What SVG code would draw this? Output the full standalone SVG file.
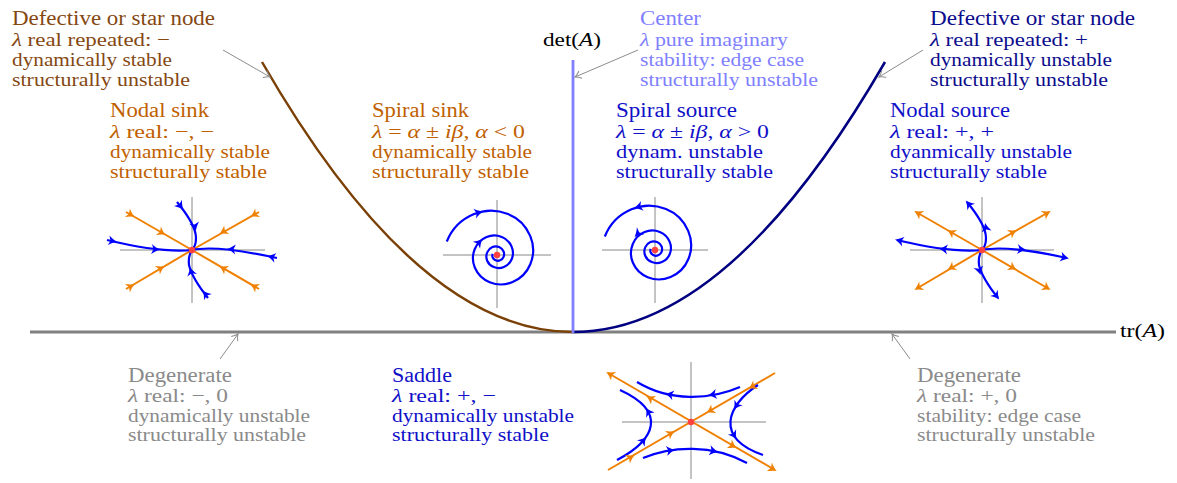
<svg xmlns="http://www.w3.org/2000/svg" xmlns:xlink="http://www.w3.org/1999/xlink" width="1177" height="483" viewBox="0 0 1177 483">
<style>
.t{font-family:"Liberation Serif","DejaVu Serif",serif;font-size:19.5px}
.h{font-size:20.5px}
.it{font-style:italic}
.brown{fill:#854812}.org{fill:#bf6000}.navy{fill:#0c0c8c}.blue{fill:#1010c8}.lb{fill:#8080ff}.gray{fill:#8a8a8a}.blk{fill:#000}
.ax{stroke:#888;stroke-width:1;fill:none}
.ot{stroke:#f08000;stroke-width:2;fill:none}
.bt{stroke:#0000ff;stroke-width:2.2;fill:none}
.oa{fill:#f08000}.ba{fill:#0000ff}
.dot{fill:#ff4040}
.ptr{stroke:#8c8c8c;stroke-width:1;fill:none;marker-end:url(#pt)}
</style>
<defs>
<path id="ah" d="M2,0 C-1,-1 -4,-3 -6.5,-5 L-4.5,0 L-6.5,5 C-4,3 -1,1 2,0 Z"/>
<marker id="pt" markerUnits="userSpaceOnUse" markerWidth="12" markerHeight="12" viewBox="-8 -6 10 12" refX="0" refY="0" orient="auto">
<path d="M-6,-4 Q-2,-0.6 0,0 Q-2,0.6 -6,4" stroke="#8c8c8c" stroke-width="1" fill="none"/>
</marker>
<path id="spiral" d="M446.8,241.5 A49.5,49.5 0 0 1 473.5,214.3 A44.7,44.7 0 0 1 508.0,214.0 A40.4,40.4 0 0 1 530.2,235.9 A36.5,36.5 0 0 1 530.4,264.0 A32.9,32.9 0 0 1 512.6,282.0 A29.7,29.7 0 0 1 489.7,282.2 A26.9,26.9 0 0 1 474.9,267.8 A24.3,24.3 0 0 1 474.8,249.0 A21.9,21.9 0 0 1 486.6,237.0 A19.8,19.8 0 0 1 501.8,236.9 A17.8,17.8 0 0 1 511.6,246.6 A16.1,16.1 0 0 1 511.8,259.0 A14.6,14.6 0 0 1 503.9,267.0 A13.2,13.2 0 0 1 493.8,267.1 A11.9,11.9 0 0 1 487.2,260.7 A10.8,10.8 0 0 1 487.2,252.4 A9.7,9.7 0 0 1 492.4,247.0 A8.8,8.8 0 0 1 499.1,247.0 A7.9,7.9 0 0 1 503.5,251.3 A7.2,7.2 0 0 1 503.6,256.8 A6.5,6.5 0 0 1 500.1,260.3 A5.8,5.8 0 0 1 495.6,260.3 A5.3,5.3 0 0 1 492.7,257.5 A4.8,4.8 0 0 1 492.7,253.8"/>
</defs>
<rect width="1177" height="483" fill="#fff"/>

<g id="axes">
<line x1="30" y1="332" x2="1116" y2="332" stroke="#808080" stroke-width="2.8"/>
<path d="M262,62 Q417.5,332 573,332" stroke="#7a4006" stroke-width="2.5" fill="none"/>
<path d="M573,332 Q729,332 885,62" stroke="#000080" stroke-width="2.5" fill="none"/>
<line x1="573" y1="60" x2="573" y2="333" stroke="#8080ff" stroke-width="2.8"/>
<text class="t blk" x="543" y="46" textLength="58" lengthAdjust="spacingAndGlyphs">det(<tspan class="it">A</tspan>)</text>
<text class="t blk" x="1120" y="337" textLength="45" lengthAdjust="spacingAndGlyphs">tr(<tspan class="it">A</tspan>)</text>
</g>

<g id="connectors">
<path class="ptr" d="M223,50 L270,77"/>
<path class="ptr" d="M638,50 L575,77"/>
<path class="ptr" d="M923,50 L879,77"/>
<path class="ptr" d="M220,359 L238,334"/>
<path class="ptr" d="M910,359 L892,334"/>
</g>

<g id="star-node-stable">
<text class="t h brown" x="12" y="25" textLength="203" lengthAdjust="spacingAndGlyphs">Defective or star node</text>
<text class="t brown" x="12" y="46" textLength="158" lengthAdjust="spacingAndGlyphs"><tspan class="it">λ</tspan> real repeated: −</text>
<text class="t brown" x="12" y="66" textLength="160" lengthAdjust="spacingAndGlyphs">dynamically stable</text>
<text class="t brown" x="12" y="86" textLength="178" lengthAdjust="spacingAndGlyphs">structurally unstable</text>
</g>

<g id="center">
<text class="t h lb" x="640" y="25" textLength="61" lengthAdjust="spacingAndGlyphs">Center</text>
<text class="t lb" x="640" y="46" textLength="148" lengthAdjust="spacingAndGlyphs"><tspan class="it">λ</tspan> pure imaginary</text>
<text class="t lb" x="640" y="66" textLength="164" lengthAdjust="spacingAndGlyphs">stability: edge case</text>
<text class="t lb" x="640" y="86" textLength="178" lengthAdjust="spacingAndGlyphs">structurally unstable</text>
</g>

<g id="star-node-unstable">
<text class="t h navy" x="930" y="25" textLength="205" lengthAdjust="spacingAndGlyphs">Defective or star node</text>
<text class="t navy" x="930" y="46" textLength="158" lengthAdjust="spacingAndGlyphs"><tspan class="it">λ</tspan> real repeated: +</text>
<text class="t navy" x="930" y="66" textLength="182" lengthAdjust="spacingAndGlyphs">dynamically unstable</text>
<text class="t navy" x="930" y="86" textLength="178" lengthAdjust="spacingAndGlyphs">structurally unstable</text>
</g>

<g id="nodal-sink">
<text class="t h org" x="110" y="117" textLength="99" lengthAdjust="spacingAndGlyphs">Nodal sink</text>
<text class="t org" x="110" y="138" textLength="104" lengthAdjust="spacingAndGlyphs"><tspan class="it">λ</tspan> real: −, −</text>
<text class="t org" x="110" y="158" textLength="160" lengthAdjust="spacingAndGlyphs">dynamically stable</text>
<text class="t org" x="110" y="178" textLength="157" lengthAdjust="spacingAndGlyphs">structurally stable</text>
<line class="ax" x1="120" y1="250" x2="265" y2="250"/>
<line class="ax" x1="192" y1="197" x2="192" y2="303"/>
<path class="ot" d="M126,212 L192,250 M259,212 L192,250 M126,289 L192,250 M259,289 L192,250"/>
<path class="bt" d="M107,240 C140,248 170,252 192,250"/>
<path class="bt" d="M277,258 C245,251 210,246 192,250"/>
<path class="bt" d="M177,202 Q196,225 196,238 Q196,246 192,250"/>
<path class="bt" d="M208,298 Q192,278 189,265 Q188,256 192,250"/>
<use href="#ah" class="oa" transform="translate(133,216) rotate(30)"/>
<use href="#ah" class="oa" transform="translate(164,234) rotate(30)"/>
<use href="#ah" class="oa" transform="translate(252,216) rotate(150)"/>
<use href="#ah" class="oa" transform="translate(221,233) rotate(150)"/>
<use href="#ah" class="oa" transform="translate(133,285) rotate(-30)"/>
<use href="#ah" class="oa" transform="translate(163,267) rotate(-30)"/>
<use href="#ah" class="oa" transform="translate(252,285) rotate(-150)"/>
<use href="#ah" class="oa" transform="translate(221,267) rotate(-150)"/>
<use href="#ah" class="ba" transform="translate(115,241.5) rotate(10)"/>
<use href="#ah" class="ba" transform="translate(158,249.5) rotate(5)"/>
<use href="#ah" class="ba" transform="translate(269,256.5) rotate(192)"/>
<use href="#ah" class="ba" transform="translate(229,249) rotate(184)"/>
<use href="#ah" class="ba" transform="translate(182,208) rotate(52)"/>
<use href="#ah" class="ba" transform="translate(195.5,229) rotate(78)"/>
<use href="#ah" class="ba" transform="translate(204,292) rotate(232)"/>
<use href="#ah" class="ba" transform="translate(190.5,269) rotate(-105)"/>
<circle class="dot" cx="192" cy="250" r="3.2"/>
</g>

<g id="spiral-sink">
<text class="t h org" x="372" y="117" textLength="97" lengthAdjust="spacingAndGlyphs">Spiral sink</text>
<text class="t org" x="372" y="138" textLength="153" lengthAdjust="spacingAndGlyphs"><tspan class="it">λ</tspan> = <tspan class="it">α</tspan> ± <tspan class="it">iβ</tspan>, <tspan class="it">α</tspan> &lt; 0</text>
<text class="t org" x="372" y="158" textLength="160" lengthAdjust="spacingAndGlyphs">dynamically stable</text>
<text class="t org" x="372" y="178" textLength="157" lengthAdjust="spacingAndGlyphs">structurally stable</text>
<line class="ax" x1="443" y1="255" x2="551" y2="255"/>
<line class="ax" x1="497" y1="200" x2="497" y2="308"/>
<use href="#spiral" class="bt"/>
<use href="#ah" class="ba" transform="translate(481,212) rotate(-15)"/>
<use href="#ah" class="ba" transform="translate(481,240.5) rotate(-46)"/>
<circle class="dot" cx="497" cy="255" r="3.2"/>
</g>

<g id="spiral-source">
<text class="t h blue" x="616" y="117" textLength="121" lengthAdjust="spacingAndGlyphs">Spiral source</text>
<text class="t blue" x="616" y="138" textLength="153" lengthAdjust="spacingAndGlyphs"><tspan class="it">λ</tspan> = <tspan class="it">α</tspan> ± <tspan class="it">iβ</tspan>, <tspan class="it">α</tspan> &gt; 0</text>
<text class="t blue" x="616" y="158" textLength="147" lengthAdjust="spacingAndGlyphs">dynam. unstable</text>
<text class="t blue" x="616" y="178" textLength="157" lengthAdjust="spacingAndGlyphs">structurally stable</text>
<line class="ax" x1="602" y1="250" x2="708" y2="250"/>
<line class="ax" x1="655" y1="197" x2="655" y2="303"/>
<use href="#spiral" class="bt" transform="translate(158,-5)"/>
<use href="#ah" class="ba" transform="translate(636,207.5) rotate(165)"/>
<use href="#ah" class="ba" transform="translate(636,235.5) rotate(134)"/>
<circle class="dot" cx="655" cy="250" r="3.2"/>
</g>

<g id="nodal-source">
<text class="t h blue" x="890" y="117" textLength="120" lengthAdjust="spacingAndGlyphs">Nodal source</text>
<text class="t blue" x="890" y="138" textLength="104" lengthAdjust="spacingAndGlyphs"><tspan class="it">λ</tspan> real: +, +</text>
<text class="t blue" x="890" y="158" textLength="182" lengthAdjust="spacingAndGlyphs">dyanmically unstable</text>
<text class="t blue" x="890" y="178" textLength="157" lengthAdjust="spacingAndGlyphs">structurally stable</text>
<line class="ax" x1="910" y1="250" x2="1054" y2="250"/>
<line class="ax" x1="982" y1="197" x2="982" y2="303"/>
<path class="ot" d="M982,250 L916,212 M982,250 L1049,212 M982,250 L916,289 M982,250 L1049,289"/>
<path class="bt" d="M982,250 C960,252 930,248 897,240"/>
<path class="bt" d="M982,250 C1000,246 1035,251 1067,258"/>
<path class="bt" d="M982,250 Q986,246 986,238 Q986,225 967,202"/>
<path class="bt" d="M982,250 Q978,256 979,265 Q982,278 998,298"/>
<use href="#ah" class="oa" transform="translate(916,212) rotate(210)"/>
<use href="#ah" class="oa" transform="translate(949,231) rotate(210)"/>
<use href="#ah" class="oa" transform="translate(1049,212) rotate(-30)"/>
<use href="#ah" class="oa" transform="translate(1015,231) rotate(-30)"/>
<use href="#ah" class="oa" transform="translate(916,289) rotate(150)"/>
<use href="#ah" class="oa" transform="translate(949,269) rotate(150)"/>
<use href="#ah" class="oa" transform="translate(1049,289) rotate(30)"/>
<use href="#ah" class="oa" transform="translate(1015,269) rotate(30)"/>
<use href="#ah" class="ba" transform="translate(897,240) rotate(194)"/>
<use href="#ah" class="ba" transform="translate(941,249) rotate(185)"/>
<use href="#ah" class="ba" transform="translate(1067,258) rotate(12)"/>
<use href="#ah" class="ba" transform="translate(1024,249.5) rotate(5)"/>
<use href="#ah" class="ba" transform="translate(967,202) rotate(230)"/>
<use href="#ah" class="ba" transform="translate(985.5,225) rotate(-100)"/>
<use href="#ah" class="ba" transform="translate(998,298) rotate(51)"/>
<use href="#ah" class="ba" transform="translate(980,273) rotate(75)"/>
<circle class="dot" cx="982" cy="250" r="3.2"/>
</g>

<g id="degenerate-stable">
<text class="t h gray" x="128" y="382" textLength="104" lengthAdjust="spacingAndGlyphs">Degenerate</text>
<text class="t gray" x="128" y="402" textLength="100" lengthAdjust="spacingAndGlyphs"><tspan class="it">λ</tspan> real: −, 0</text>
<text class="t gray" x="128" y="422" textLength="182" lengthAdjust="spacingAndGlyphs">dynamically unstable</text>
<text class="t gray" x="128" y="441" textLength="178" lengthAdjust="spacingAndGlyphs">structurally unstable</text>
</g>

<g id="saddle">
<text class="t h blue" x="392" y="382" textLength="60" lengthAdjust="spacingAndGlyphs">Saddle</text>
<text class="t blue" x="392" y="402" textLength="104" lengthAdjust="spacingAndGlyphs"><tspan class="it">λ</tspan> real: +, −</text>
<text class="t blue" x="392" y="422" textLength="182" lengthAdjust="spacingAndGlyphs">dynamically unstable</text>
<text class="t blue" x="392" y="441" textLength="157" lengthAdjust="spacingAndGlyphs">structurally stable</text>
<line class="ax" x1="622" y1="422" x2="766" y2="422"/>
<line class="ax" x1="691" y1="362" x2="691" y2="479"/>
<path class="ot" d="M608,373 L775,470 M608,470 L775,373"/>
<path class="bt" d="M740,387 C710,400 670,402 637,382"/>
<path class="bt" d="M643,458 C672,446 712,444 747,463"/>
<path class="bt" d="M617,460 C655,440 668,412 620,390"/>
<path class="bt" d="M758,385 C727,405 714,438 763,455"/>
<use href="#ah" class="oa" transform="translate(608,373) rotate(210.6)"/>
<use href="#ah" class="oa" transform="translate(648,397) rotate(210.6)"/>
<use href="#ah" class="oa" transform="translate(775,470) rotate(29.7)"/>
<use href="#ah" class="oa" transform="translate(735,447) rotate(29.7)"/>
<use href="#ah" class="oa" transform="translate(633,456) rotate(-30)"/>
<use href="#ah" class="oa" transform="translate(673,432) rotate(-30)"/>
<use href="#ah" class="oa" transform="translate(750,388) rotate(150)"/>
<use href="#ah" class="oa" transform="translate(708,412) rotate(150)"/>
<use href="#ah" class="ba" transform="translate(667,394) rotate(192)"/>
<use href="#ah" class="ba" transform="translate(710,395) rotate(171)"/>
<use href="#ah" class="ba" transform="translate(673,450) rotate(-8)"/>
<use href="#ah" class="ba" transform="translate(716,451.5) rotate(11)"/>
<use href="#ah" class="ba" transform="translate(645,438.5) rotate(-50)"/>
<use href="#ah" class="ba" transform="translate(647,409.5) rotate(-121)"/>
<use href="#ah" class="ba" transform="translate(735,408) rotate(123)"/>
<use href="#ah" class="ba" transform="translate(735.5,437.5) rotate(57)"/>
<circle class="dot" cx="691" cy="422" r="3.2"/>
</g>

<g id="degenerate-unstable">
<text class="t h gray" x="917" y="382" textLength="104" lengthAdjust="spacingAndGlyphs">Degenerate</text>
<text class="t gray" x="917" y="402" textLength="100" lengthAdjust="spacingAndGlyphs"><tspan class="it">λ</tspan> real: +, 0</text>
<text class="t gray" x="917" y="422" textLength="164" lengthAdjust="spacingAndGlyphs">stability: edge case</text>
<text class="t gray" x="917" y="441" textLength="178" lengthAdjust="spacingAndGlyphs">structurally unstable</text>
</g>
</svg>
